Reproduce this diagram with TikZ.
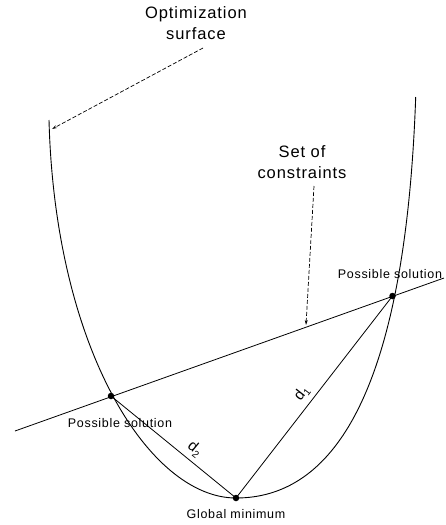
\documentclass[tikz,border=0pt]{standalone}
\usepackage{fontspec}
\setmainfont[LetterSpace=5.5]{Liberation Sans}
\usetikzlibrary{arrows.meta}
\tikzset{
  curve/.style={line width=0.9pt},
  seg/.style={line width=0.8pt},
  pointer/.style={line width=0.7pt, dash pattern=on 4pt off 2pt, -{Stealth[length=5pt,width=3pt]}},
  bigtext/.style={font=\fontsize{16.5}{21}\selectfont, align=center, inner sep=0pt},
  smalltext/.style={font=\fontsize{12.5}{15}\selectfont, inner sep=0pt},
  dlabel/.style={font=\fontsize{15}{17}\selectfont, inner sep=0pt},
  dot/.style={circle, fill=black, inner sep=0pt, minimum size=6.5pt}
}
\newcommand{\dsub}[1]{d\raisebox{-3pt}{\fontsize{10}{11}\selectfont #1}}
\begin{document}
\begin{tikzpicture}[x=1pt,y=-1pt]
\useasboundingbox (0,0) rectangle (445,525);
% key points
\node[dot] (gm) at (236,498) {};
\node[dot] (psl) at (111,396) {};
\node[dot] (psr) at (392.5,296) {};
\coordinate (ltop) at (49,120);
\coordinate (rtop) at (415.7,97);
\coordinate (cl) at (15,431);
\coordinate (cr) at (444,278);
% optimization surface
\draw[curve] (ltop) .. controls (55,350) and (150,498) .. (gm.center)
  .. controls (330,498) and (405,400) .. (rtop);
% constraint line
\draw[seg] (cl) -- (cr);
% distances
\draw[seg] (gm.center) -- node[dlabel, sloped, above=4.5pt, pos=0.48] {\dsub{1}} (psr.center);
\draw[seg] (psl.center) -- node[dlabel, sloped, above=4.5pt, pos=0.61] {\dsub{2}} (gm.center);
% labels
\node[bigtext] (opt) at (196,23) {Optimization\\surface};
\node[bigtext] (soc) at (302,162) {Set of\\constraints};
\node[smalltext] (lpsr) at (390,274) {Possible solution};
\node[smalltext] (lpsl) at (120,423) {Possible solution};
\node[smalltext] (lgm) at (236,514) {Global minimum};
% pointers
\coordinate (optend) at (52,129);
\coordinate (socend) at (306,325);
\draw[pointer] (203,48) -- (optend);
\draw[pointer] (314,186) -- (socend);
\end{tikzpicture}
\end{document}
